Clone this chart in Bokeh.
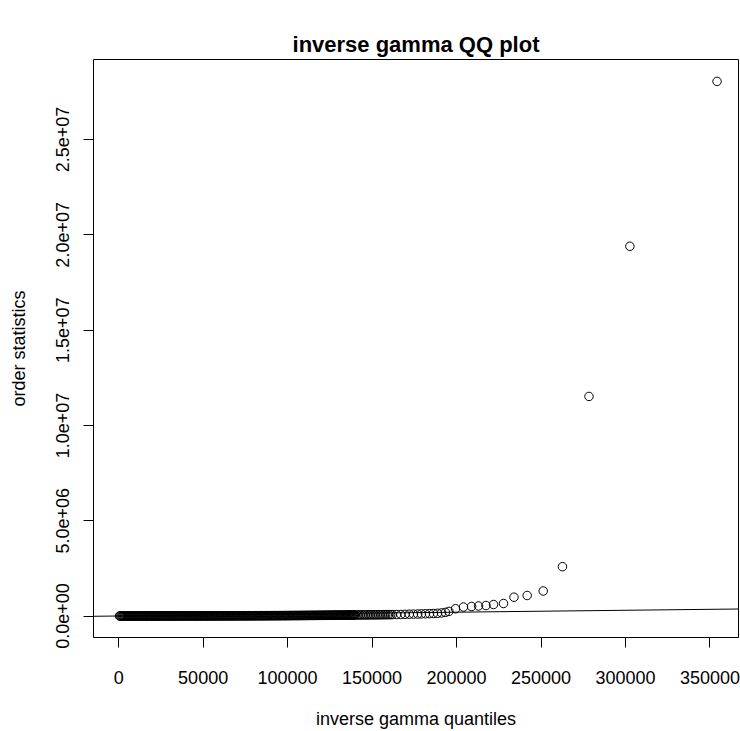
import numpy as np
from bokeh.plotting import figure
from bokeh.models import Range1d, FixedTicker, Slope, ColumnDataSource
from bokeh.embed import file_html
from bokeh.resources import INLINE

# ---- data (values in thousands) ----
# dense band of points near the baseline
band_x_k = [
    0.5, 1.0, 1.5, 2.0, 2.5, 3.0, 3.5, 4.0, 4.5, 5.0, 5.5, 6.0, 6.5, 7.0, 7.5, 8.0, 8.5, 9.0, 9.5, 10.0,
    10.5, 11.0, 11.5, 12.0, 12.5, 13.0, 13.5, 14.0, 14.5, 15.0, 15.5, 16.0, 16.5, 17.0, 17.5, 18.0, 18.5, 19.0, 19.5, 20.0,
    20.5, 21.0, 21.5, 22.0, 22.5, 23.0, 23.5, 24.0, 24.5, 25.0, 25.5, 26.0, 26.5, 27.0, 27.5, 28.0, 28.5, 29.0, 29.5, 30.0,
    30.5, 31.0, 31.5, 32.0, 32.5, 33.0, 33.5, 34.0, 34.5, 35.0, 35.5, 36.0, 36.5, 37.0, 37.5, 38.0, 38.5, 39.0, 39.5, 40.0,
    40.5, 41.0, 41.5, 42.0, 42.5, 43.0, 43.5, 44.0, 44.5, 45.0, 45.5, 46.0, 46.5, 47.0, 47.5, 48.0, 48.5, 49.0, 49.5, 50.0,
    50.5, 51.0, 51.5, 52.0, 52.5, 53.0, 53.5, 54.0, 54.5, 55.0, 55.5, 56.0, 56.5, 57.0, 57.5, 58.0, 58.5, 59.0, 59.5, 60.0,
    60.5, 61.0, 61.5, 62.0, 62.5, 63.0, 63.5, 64.0, 64.5, 65.0, 65.5, 66.0, 66.5, 67.0, 67.5, 68.0, 68.5, 69.0, 69.5, 70.0,
    70.5, 71.0, 71.5, 72.0, 72.5, 73.0, 73.5, 74.0, 74.5, 75.0, 75.5, 76.0, 76.5, 77.0, 77.5, 78.0, 78.5, 79.0, 79.5, 80.0,
    80.5, 81.0, 81.5, 82.0, 82.5, 83.0, 83.5, 84.0, 84.5, 85.0, 85.5, 86.0, 86.5, 87.0, 87.5, 88.0, 88.5, 89.0, 89.5, 90.0,
    90.5, 91.0, 91.5, 92.0, 92.5, 93.0, 93.5, 94.0, 94.5, 95.0, 95.5, 96.0, 96.5, 97.0, 97.5, 98.0, 98.5, 99.0, 99.5, 100.0,
    100.5, 101.0, 101.5, 102.0, 102.5, 103.0, 103.5, 104.0, 104.5, 105.0, 105.5, 106.0, 106.5, 107.0, 107.5, 108.0, 108.5, 109.0, 109.5, 110.0,
    110.5, 111.0, 111.5, 112.0, 112.5, 113.0, 113.5, 114.0, 114.5, 115.0, 115.5, 116.0, 116.5, 117.0, 117.5, 118.0, 118.5, 119.0, 119.5, 120.0,
    120.5, 121.0, 121.5, 122.0, 122.5, 123.0, 123.5, 124.0, 124.5, 125.0, 125.5, 126.0, 126.5, 127.0, 127.5, 128.0, 128.5, 129.0, 129.5, 130.0,
    130.5, 131.0, 131.5, 132.0, 132.5, 133.0, 133.5, 134.0, 134.5, 135.0, 135.5, 136.0, 136.5, 137.0, 137.5, 138.0, 138.5, 139.0, 139.5, 140.0,
    141, 142, 143, 144, 145, 146, 147, 148, 149, 150, 151, 152, 153, 154, 155, 156, 157, 158, 159, 160,
    161, 162,
]
band_y_k = [
    0.1, 0.15, 0.2, 0.3, 0.35, 0.4, 0.5, 0.55, 0.6, 0.7, 0.75, 0.8, 0.9, 0.95, 1.0, 1.1, 1.15, 1.2, 1.3, 1.4,
    1.45, 1.5, 1.6, 1.7, 1.75, 1.8, 1.9, 2.0, 2.05, 2.1, 2.2, 2.3, 2.35, 2.4, 2.5, 2.6, 2.65, 2.7, 2.8, 2.9,
    3.0, 3.05, 3.1, 3.2, 3.3, 3.4, 3.45, 3.5, 3.6, 3.7, 3.8, 3.85, 3.9, 4.0, 4.1, 4.2, 4.3, 4.35, 4.4, 4.5,
    4.6, 4.7, 4.8, 4.9, 4.95, 5.0, 5.1, 5.2, 5.3, 5.4, 5.5, 5.6, 5.65, 5.7, 5.8, 5.9, 6.0, 6.1, 6.2, 6.3,
    6.4, 6.5, 6.6, 6.7, 6.8, 6.9, 7.0, 7.1, 7.2, 7.3, 7.4, 7.5, 7.6, 7.7, 7.8, 7.9, 8.0, 8.1, 8.2, 8.3,
    8.4, 8.5, 8.6, 8.7, 8.8, 8.9, 9.0, 9.2, 9.3, 9.4, 9.5, 9.6, 9.7, 9.8, 10.0, 10.1, 10.2, 10.3, 10.4, 10.5,
    10.7, 10.8, 10.9, 11.0, 11.2, 11.3, 11.4, 11.5, 11.7, 11.8, 11.9, 12.0, 12.2, 12.3, 12.4, 12.6, 12.7, 12.8, 13.0, 13.1,
    13.2, 13.4, 13.5, 13.6, 13.8, 13.9, 14.1, 14.2, 14.4, 14.5, 14.6, 14.8, 14.9, 15.1, 15.2, 15.4, 15.5, 15.7, 15.8, 16.0,
    16.1, 16.3, 16.5, 16.6, 16.8, 16.9, 17.1, 17.3, 17.4, 17.6, 17.8, 17.9, 18.1, 18.3, 18.4, 18.6, 18.8, 19.0, 19.1, 19.3,
    19.5, 19.7, 19.9, 20.0, 20.2, 20.4, 20.6, 20.8, 21.0, 21.2, 21.4, 21.6, 21.8, 22.0, 22.2, 22.4, 22.6, 22.8, 23.0, 23.2,
    23.4, 23.6, 23.9, 24.1, 24.3, 24.5, 24.8, 25.0, 25.2, 25.5, 25.7, 25.9, 26.2, 26.4, 26.7, 26.9, 27.2, 27.4, 27.7, 28.0,
    28.2, 28.5, 28.8, 29.0, 29.3, 29.6, 29.9, 30.2, 30.5, 30.8, 31.1, 31.4, 31.7, 32.0, 32.3, 32.6, 33.0, 33.3, 33.6, 34.0,
    34.3, 34.7, 35.0, 35.4, 35.8, 36.1, 36.5, 36.9, 37.3, 37.7, 38.1, 38.5, 38.9, 39.3, 39.8, 40.2, 40.6, 41.1, 41.5, 42.0,
    42.5, 42.9, 43.4, 43.9, 44.4, 44.9, 45.4, 46.0, 46.5, 47.0, 47.6, 48.2, 48.7, 49.3, 49.9, 50.5, 51.1, 51.8, 52.4, 53.1,
    53.8, 54.5, 55.3, 56.0, 56.8, 57.6, 58.5, 59.3, 60.2, 61.1, 62.0, 63.0, 64.0, 65.0, 66.0, 67.1, 68.2, 69.4, 70.6, 71.8,
    73.0, 74.3,
]
# sparser points where the curve starts to lift
mid_x_k = [164.5, 167, 169.5, 172, 174.5, 177, 179.2, 181.6, 184, 186.3,
           188.7, 191.1, 193.4, 195.5]
mid_y_k = [76, 80, 87, 95, 100, 104, 110, 117, 124, 132,
           142, 160, 190, 240]
# upper tail
tail_x_k = [199.4, 204.1, 208.9, 213, 217.4, 221.9, 227.8, 234, 241.8, 251.3,
            262.7, 278.4, 302.6, 354.2]
tail_y_k = [380, 470, 498, 525, 551, 603, 656, 986, 1076, 1312,
            2587, 11520, 19400, 28050]

# reference line y = x
line_slope = 1.0
line_intercept = 0.0

x_ticks = [0, 50000, 100000, 150000, 200000, 250000, 300000, 350000]
x_tick_labels = ["0", "50000", "100000", "150000", "200000", "250000", "300000", "350000"]
y_ticks = [0, 5000000, 10000000, 15000000, 20000000, 25000000]
y_tick_labels = ["0.0e+00", "5.0e+06", "1.0e+07", "1.5e+07", "2.0e+07", "2.5e+07"]

title_text = "inverse gamma QQ plot"
x_label = "inverse gamma quantiles"
y_label = "order statistics"

# ---- build ----
xs = np.array(band_x_k + mid_x_k + tail_x_k) * 1000.0
ys = np.array(band_y_k + mid_y_k + tail_y_k) * 1000.0
src = ColumnDataSource(dict(x=xs, y=ys))

FONT = "Liberation Sans"

p = figure(width=740, height=731, output_backend="svg", toolbar_location=None,
           x_range=Range1d(-14900, 366900), y_range=Range1d(-1.128e6, 2.92e7),
           min_border_left=93, min_border_right=2, min_border_top=59,
           min_border_bottom=94, title=title_text)

p.title.align = "center"
p.title.text_font = FONT
p.title.text_font_size = "22px"
p.title.text_font_style = "bold"
p.title.text_color = "black"
p.title.standoff = 5

p.outline_line_color = "black"
p.outline_line_width = 1
p.outline_line_alpha = 1
p.xgrid.visible = False
p.ygrid.visible = False
p.background_fill_color = "white"
p.border_fill_color = "white"

for ax in (p.xaxis[0], p.yaxis[0]):
    ax.axis_line_color = None
    ax.major_tick_out = 10
    ax.major_tick_in = 0
    ax.major_tick_line_color = "black"
    ax.minor_tick_line_color = None
    ax.major_label_text_font = FONT
    ax.major_label_text_font_size = "18px"
    ax.major_label_text_color = "black"
    ax.axis_label_text_font = FONT
    ax.axis_label_text_font_size = "18px"
    ax.axis_label_text_font_style = "normal"
    ax.axis_label_text_color = "black"

p.xaxis[0].ticker = FixedTicker(ticks=x_ticks)
p.xaxis[0].major_label_overrides = {t: l for t, l in zip(x_ticks, x_tick_labels)}
p.xaxis[0].axis_label = x_label
p.xaxis[0].major_label_standoff = 23
p.xaxis[0].axis_label_standoff = 22

p.yaxis[0].ticker = FixedTicker(ticks=y_ticks)
p.yaxis[0].major_label_overrides = {t: l for t, l in zip(y_ticks, y_tick_labels)}
p.yaxis[0].major_label_orientation = "vertical"
p.yaxis[0].axis_label = y_label
p.yaxis[0].major_label_standoff = 14
p.yaxis[0].axis_label_standoff = 25

p.add_layout(Slope(gradient=line_slope, y_intercept=line_intercept,
                   line_color="black", line_width=1))

p.scatter("x", "y", source=src, marker="circle", size=8.5,
          fill_color=None, line_color="black", line_width=1)

open("out.html", "w").write(file_html(p, INLINE))
